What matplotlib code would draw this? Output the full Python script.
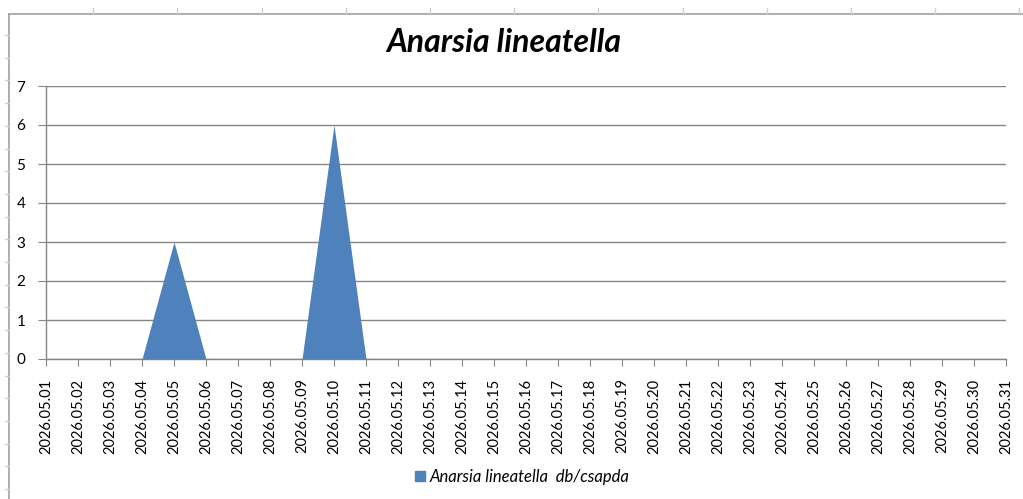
import matplotlib.pyplot as plt
from matplotlib.lines import Line2D
from matplotlib.patches import Patch

dates = [f"2026.05.{d:02d}" for d in range(1, 32)]
counts = [0, 0, 0, 0, 3, 0, 0, 0, 0, 6, 0, 0, 0, 0, 0, 0, 0, 0, 0, 0,
          0, 0, 0, 0, 0, 0, 0, 0, 0, 0, 0]
series_name = "Anarsia lineatella  db/csapda"
title = "Anarsia lineatella"
yticks = [0, 1, 2, 3, 4, 5, 6, 7]

plt.rcParams["font.family"] = ["Lato", "DejaVu Sans"]

fig = plt.figure(figsize=(10.23, 4.99), dpi=100)
W, H = 1023, 499
ax = fig.add_axes([46 / W, 1 - 359 / H, (1006 - 46) / W, (359 - 86) / H])

x = list(range(len(dates)))
ax.fill_between(x, counts, 0, color="#4F81BD", lw=0, zorder=3)

ax.set_xlim(0, len(dates) - 1)
ax.set_ylim(0, 7)
ax.set_yticks(yticks)
ax.set_xticks(x)
ax.set_xticklabels(dates, rotation=90, fontsize=10.5)
ax.tick_params(axis="y", labelsize=11, length=6, color="#868686", pad=9)
ax.tick_params(axis="x", length=5, color="#868686", pad=9)
ax.grid(axis="y", color="#868686", lw=1, zorder=1)
for s in ["top", "right"]:
    ax.spines[s].set_visible(False)
for s in ["left", "bottom"]:
    ax.spines[s].set_color("#868686")
    ax.spines[s].set_linewidth(1)
ax.set_axisbelow(True)

fig.text(504 / W, 1 - 43 / H, title, ha="center", va="center",
         fontsize=23, fontweight="bold", fontstyle="italic")

fig.legend(handles=[Patch(color="#4F81BD")], labels=[series_name],
           loc="center", bbox_to_anchor=(522 / W, 1 - 477 / H), frameon=False,
           prop={"style": "italic", "size": 12}, handlelength=0.6, handleheight=0.6,
           handletextpad=0.3)

# worksheet frame with faint cell ticks
frame = "#A0A0A0"
fig.add_artist(Line2D([9 / W, 1], [1 - 14 / H] * 2, color=frame, lw=1.2))
fig.add_artist(Line2D([9 / W] * 2, [0, 1 - 14 / H], color=frame, lw=1.2))
for k in range(12):
    xp = (9 + 84.2 * (k + 1)) / W
    fig.add_artist(Line2D([xp, xp], [1 - 8 / H, 1 - 14 / H], color="#C8D0E0", lw=1))
for k in range(22):
    yp = 1 - (35 + 22.7 * k) / H
    fig.add_artist(Line2D([5 / W, 9 / W], [yp, yp], color="#C8D0E0", lw=1))

fig.savefig("out.png", dpi=100)
